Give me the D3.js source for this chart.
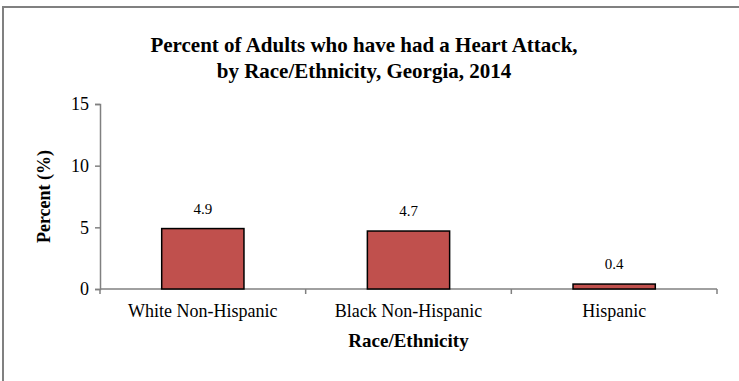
<!DOCTYPE html>
<html>
<head>
<meta charset="utf-8">
<script src="https://cdn.jsdelivr.net/npm/d3@7"></script>
<style>
  body { margin: 0; background: #fff; }
  text { font-family: "Liberation Serif", "Times New Roman", serif; }
</style>
</head>
<body>
<svg id="chart"></svg>
<script>
// data
var categories = ["White Non-Hispanic", "Black Non-Hispanic", "Hispanic"];
var values = [4.9, 4.7, 0.4];
var yTicks = [0, 5, 10, 15];
var titleLines = ["Percent of Adults who have had a Heart Attack,", "by Race/Ethnicity, Georgia, 2014"];

var width = 739, height = 381;
var svg = d3.select("#chart")
    .attr("width", width)
    .attr("height", height);

// outer frame, only top and left edges show in the picture
svg.append("path")
    .attr("d", "M3," + height + "V7H" + width)
    .attr("fill", "none")
    .attr("stroke", "#808080")
    .attr("stroke-width", 2);

var plotLeft = 100, plotRight = 717, plotTop = 104, plotBottom = 289;

var x = d3.scaleBand()
    .domain(categories)
    .range([plotLeft, plotRight])
    .paddingInner(0.6)
    .paddingOuter(0.3);

var y = d3.scaleLinear()
    .domain([0, 15])
    .range([plotBottom, plotTop]);

// title
svg.append("text")
    .attr("x", 364)
    .attr("y", 52)
    .attr("text-anchor", "middle")
    .style("font-weight", "bold")
    .style("font-size", "21px")
    .selectAll("tspan")
    .data(titleLines)
    .enter()
    .append("tspan")
    .attr("x", 364)
    .attr("dy", function(d, i) { return i == 0 ? 0 : 26; })
    .text(function(d) { return d; });

// y axis
var yAxis = svg.append("g")
    .attr("transform", "translate(" + plotLeft + ",0)")
    .call(d3.axisLeft(y).tickValues(yTicks).tickSize(5).tickPadding(6));
yAxis.selectAll("text")
    .style("font-size", "18px")
    .style("font-family", "'Liberation Serif', serif")
    .attr("fill", "#000");
yAxis.select(".domain").attr("stroke", "#808080").attr("stroke-width", 1.5);
yAxis.selectAll(".tick line").attr("stroke", "#808080").attr("stroke-width", 1.5);

// x axis, ticks sit between categories
var xAxis = svg.append("g")
    .attr("transform", "translate(0," + plotBottom + ")");
xAxis.append("line")
    .attr("x1", plotLeft).attr("x2", plotRight)
    .attr("stroke", "#808080").attr("stroke-width", 1.5);
var step = (plotRight - plotLeft) / categories.length;
xAxis.selectAll(".sep")
    .data(d3.range(categories.length + 1))
    .enter()
    .append("line")
    .attr("x1", function(d) { return plotLeft + d * step; })
    .attr("x2", function(d) { return plotLeft + d * step; })
    .attr("y1", 0).attr("y2", 5)
    .attr("stroke", "#808080").attr("stroke-width", 1.5);
xAxis.selectAll(".cat")
    .data(categories)
    .enter()
    .append("text")
    .attr("x", function(d) { return x(d) + x.bandwidth() / 2; })
    .attr("y", 28)
    .attr("text-anchor", "middle")
    .style("font-size", "18px")
    .text(function(d) { return d; });

// bars
svg.selectAll("rect.bar")
    .data(values)
    .enter()
    .append("rect")
    .attr("class", "bar")
    .attr("x", function(d, i) { return x(categories[i]); })
    .attr("y", function(d) { return y(d); })
    .attr("width", x.bandwidth())
    .attr("height", function(d) { return plotBottom - y(d); })
    .attr("fill", "#C0504D")
    .attr("stroke", "#000")
    .attr("stroke-width", 1.5);

// value labels
svg.selectAll("text.val")
    .data(values)
    .enter()
    .append("text")
    .attr("class", "val")
    .attr("x", function(d, i) { return x(categories[i]) + x.bandwidth() / 2; })
    .attr("y", function(d) { return y(d) - 15; })
    .attr("text-anchor", "middle")
    .style("font-size", "15px")
    .text(function(d) { return d.toFixed(1); });

// axis titles
svg.append("text")
    .attr("transform", "translate(50," + ((plotTop + plotBottom) / 2) + ") rotate(-90)")
    .attr("text-anchor", "middle")
    .style("font-weight", "bold")
    .style("font-size", "18px")
    .text("Percent (%)");

svg.append("text")
    .attr("x", (plotLeft + plotRight) / 2)
    .attr("y", 347)
    .attr("text-anchor", "middle")
    .style("font-weight", "bold")
    .style("font-size", "19px")
    .text("Race/Ethnicity");
</script>
</body>
</html>
